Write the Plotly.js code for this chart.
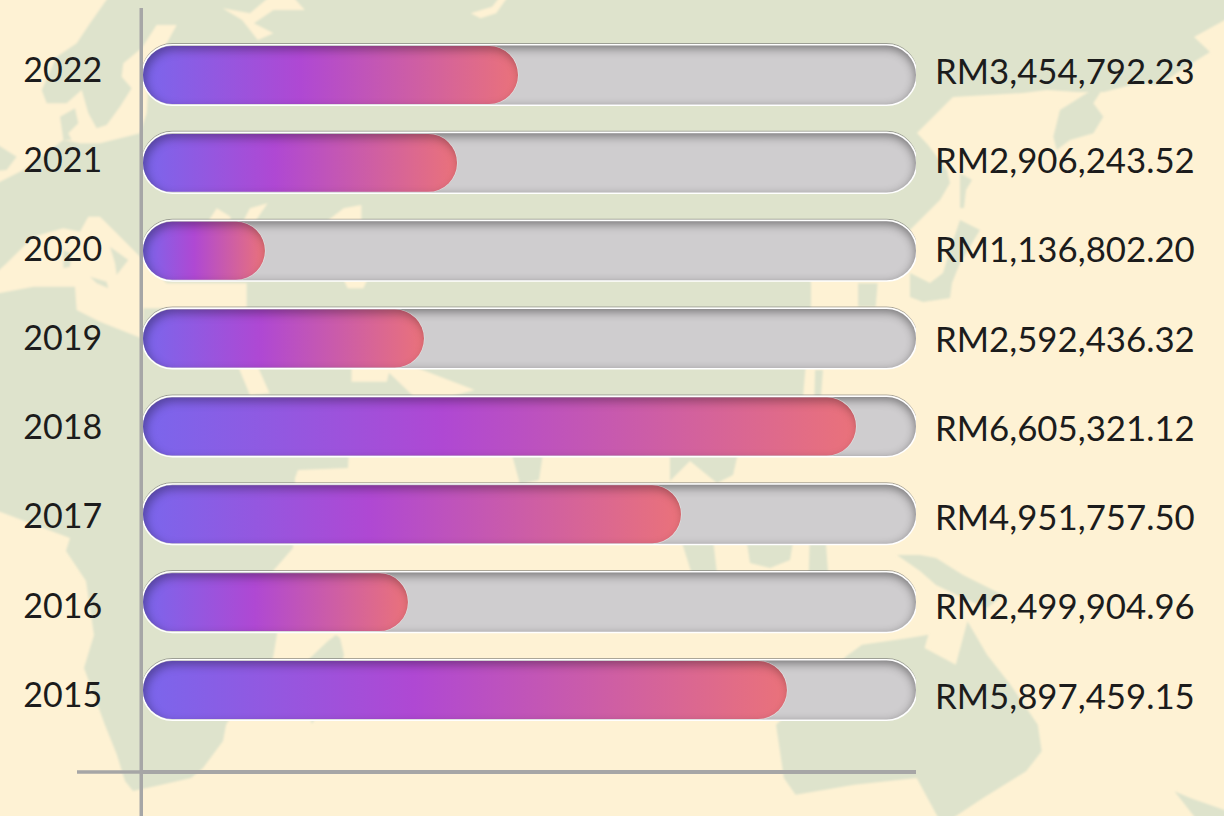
<!DOCTYPE html>
<html>
<head>
<meta charset="utf-8">
<script src="https://cdn.plot.ly/plotly-3.0.1.min.js"></script>
<style>html,body{margin:0;padding:0;background:#FEF2D4;overflow:hidden}#c{width:1224px;height:816px}</style>
</head>
<body>
<div id="c"></div>
<script>
const years = ['2022','2021','2020','2019','2018','2017','2016','2015'];
const valueLabels = ['RM3,454,792.23','RM2,906,243.52','RM1,136,802.20','RM2,592,436.32','RM6,605,321.12','RM4,951,757.50','RM2,499,904.96','RM5,897,459.15'];
const barValues = [3493000,2925000,1136000,2617000,6641000,5011000,2468000,5998000];
const trackValues = [7200000,7200000,7200000,7200000,7200000,7200000,7200000,7200000];

const W=1224,H=816,L=143,R=308,T=8,B=46;
const SEA='#DEE3CC', LAND='#FEF2D4', AXIS='#A6A6A6', INK='#1C1C1C', FONT='Lato, sans-serif', FS=34;
const px=(x)=>(x-L)/(W-L-R), py=(y)=>1-(y-T)/(H-T-B);
function poly(pts,color){
  const d=pts.map((p,i)=>(i?'L':'M')+px(p[0]).toFixed(5)+' '+py(p[1]).toFixed(5)).join(' ')+' Z';
  return {type:'path',xref:'paper',yref:'paper',path:d,fillcolor:color,line:{width:0},layer:'below'};
}
const t=(ox,oy,pts)=>pts.map(p=>[ox+p[0]/2.56,oy+p[1]/3]);
const u=(ox,oy,pts)=>pts.map(p=>[ox+p[0]/3,oy+p[1]/3]);
const seaMain=[[-10,-10],[1234,-10],[1234,15],[1194,37],[1210,52],[1186,67],[1159,85],[1139,83],[1104,92],[1077,92],[1047,90],[1023,93],[953,97],[917,133],[928,145],[947,170],[950,183],[940,200],[920,220],[910,230],[800,240],[811,283],[811,305],[803,397],
  [780,430],[350,430],[348,468],[298,470],[295,478],[293,548],[273,571],[277,634],[273,658],[240,700],[226,725],[223,741],[203,768],[191,778],[156,786],[133,791],[125,781],[117,755],[105,725],[84,668],[94,635],[86,581],[66,551],[70,538],[-10,508]];
const seaParts=[
  u(910,60,[[430,230],[450,150],[530,100],[585,75],[550,130],[580,170],[550,220],[480,240],[440,270]]),
  [[960,220],[980,230],[960,263],[952,283],[950,298],[923,302],[910,297],[910,273],[930,283],[943,273],[950,250]],
  [[960,173],[972,180],[966,190],[964,208],[960,208]],
  t(612,0,[[630,850],[680,850],[675,920],[630,920]]),
  t(612,0,[[520,1110],[540,1110],[535,1190],[518,1190]]),
  [[508,440],[545,440],[539,480],[520,484]],
  [[670,440],[741,440],[733,475],[717,483],[690,461],[670,481]],
  [[678,530],[712,530],[720,600],[700,600]],
  [[745,530],[795,530],[790,560],[770,568],[750,563]],
  [[810,530],[825,530],[830,600],[808,600]],
  [[897,555],[920,555],[936,558],[963,575],[1003,595],[987,608],[963,598],[936,585],[920,571]],
  [[328,641],[336,635],[340,638],[344,655],[336,680],[312,724],[305,700],[309,659]],
  t(612,408,[[600,745],[640,710],[760,690],[810,680],[800,720],[880,770],[910,640],[960,740],[1020,830],[1090,950],[1100,1030],[1060,1090],[950,1170],[860,1240],[840,1240],[780,1110],[620,1130],[470,1160],[440,1110],[420,950]]),
  t(612,408,[[1440,1150],[1480,1170],[1590,1215],[1590,1240],[1500,1240],[1460,1180]])
];
const landParts=[
  u(0,0,[[-30,-30],[340,-30],[270,70],[230,130],[170,170],[125,270],[140,310],[200,310],[245,270],[265,340],[290,385],[320,375],[360,320],[395,265],[365,230],[370,190],[425,145],[470,75],[530,75],[500,130],[450,180],[440,340],[420,400],[300,430],[240,430],[190,420],[70,510],[-30,560]]),
  u(0,0,[[-30,835],[20,790],[100,710],[190,685],[240,695],[265,650],[300,650],[350,700],[400,750],[440,790],[500,850],[740,850],[740,925],[430,925],[425,1015],[300,965],[230,930],[225,860],[100,860],[-30,885]]),
  t(0,0,[[570,25],[620,60],[640,90],[660,120],[700,100],[650,70],[700,30],[780,30],[750,-10],[690,-10],[640,40]]),
  t(0,0,[[1205,40],[1260,20],[1280,-10],[1300,-10],[1270,40],[1230,55]]),
  t(0,0,[[530,670],[555,625],[590,650],[590,670]]),
  t(0,0,[[620,670],[640,625],[685,610],[650,670]]),
  t(0,0,[[830,670],[880,625],[925,615],[925,670]]),
  t(0,0,[[880,840],[940,840],[930,865],[890,865]]),
  t(0,0,[[610,1100],[660,1100],[690,1180],[640,1185]]),
  t(0,0,[[900,1100],[1000,1100],[990,1145],[900,1145]]),
  t(0,0,[[980,1100],[1060,1100],[1215,1170],[1150,1190],[1060,1190]])
];
const seaPatches=[
  u(0,0,[[-30,420],[50,470],[20,510],[-30,515]]),
  u(0,0,[[180,350],[225,325],[235,370],[205,400],[215,420],[190,420]]),
  u(0,0,[[190,750],[215,760],[210,800],[190,805]]),
  u(0,0,[[270,830],[320,845],[325,865],[290,850]]),
  u(0,0,[[330,740],[385,780],[350,825],[345,790]])
];
const line=(x0,y0,x1,y1)=>({type:'line',xref:'paper',yref:'paper',x0:px(x0),y0:py(y0),x1:px(x1),y1:py(y1),line:{color:AXIS,width:3.5},layer:'above'});
const shapes=[poly(seaMain,SEA)].concat(seaParts.map(p=>poly(p,SEA)),landParts.map(p=>poly(p,LAND)),seaPatches.map(p=>poly(p,SEA)),[line(141.25,8,141.25,816),line(77,772,916,772)]);

const data=[
  {type:'bar',orientation:'h',y:years,x:trackValues,width:0.672,marker:{color:'#CFCDCF',line:{color:'#FFFFFF',width:2}},hoverinfo:'skip',cliponaxis:false},
  {type:'bar',orientation:'h',y:years,x:barValues,width:0.66,marker:{color:'#AE48D4',line:{color:'#FFFFFF',width:1}},hoverinfo:'skip',cliponaxis:false},
  {type:'scatter',mode:'markers',yaxis:'y2',y:years,x:barValues,marker:{opacity:0,size:1},hoverinfo:'skip'}
];
const layout={
  width:W,height:H,margin:{l:L,r:R,t:T,b:B,pad:0},showlegend:false,barmode:'overlay',
  paper_bgcolor:LAND,plot_bgcolor:'rgba(0,0,0,0)',
  font:{family:FONT,size:FS,color:INK},
  xaxis:{range:[0,7200000],showgrid:false,zeroline:false,showticklabels:false,ticks:'',showline:true,linecolor:AXIS,linewidth:3.5,fixedrange:true},
  yaxis:{type:'category',categoryorder:'array',categoryarray:years,range:[7.911,-0.763],showgrid:false,zeroline:false,showline:true,linecolor:AXIS,linewidth:3.5,showticklabels:false,ticks:'',fixedrange:true},
  yaxis2:{type:'category',categoryorder:'array',categoryarray:years,overlaying:'y',side:'left',anchor:'x',range:[7.84,-0.70],showgrid:false,zeroline:false,showline:false,ticks:'outside',ticklen:33,tickcolor:'rgba(0,0,0,0)',tickfont:{family:FONT,size:FS,color:INK},fixedrange:true},
  shapes:shapes,
  annotations:years.map((y,i)=>({x:1,y:i,xref:'paper',yref:'y2',text:valueLabels[i],showarrow:false,xanchor:'left',xshift:17,font:{family:FONT,size:34.8,color:INK}}))
};
function decorate(gd){
  const svg=gd.querySelector('.main-svg');
  const NS='http://www.w3.org/2000/svg';
  const defs=document.createElementNS(NS,'defs');
  const inner=(id,dx,dy,blur,op)=>`<filter id="${id}" x="-5%" y="-25%" width="110%" height="150%" color-interpolation-filters="sRGB">
    <feGaussianBlur in="SourceAlpha" stdDeviation="${blur}"/><feOffset dx="${dx}" dy="${dy}" result="o"/>
    <feComposite in="SourceAlpha" in2="o" operator="out" result="i"/>
    <feFlood flood-color="#000" flood-opacity="${op}"/><feComposite in2="i" operator="in" result="s"/>
    <feMerge><feMergeNode in="SourceGraphic"/><feMergeNode in="s"/></feMerge></filter>`;
  defs.innerHTML=`<linearGradient id="barGrad" x1="0" y1="0" x2="1" y2="0">
    <stop offset="0" stop-color="#7A66EC"/><stop offset="0.42" stop-color="#AF48D3"/><stop offset="1" stop-color="#EA727A"/></linearGradient>`
    +inner('fillShadow',3,4,5,0.32)
    +inner('trackShadow',0,3,5,0.42)
    +`<filter id="rim" x="-5%" y="-25%" width="110%" height="150%"><feOffset in="SourceAlpha" dy="-0.8" result="u"/><feFlood flood-color="#666" flood-opacity="0.55"/><feComposite in2="u" operator="in" result="e"/><feMerge><feMergeNode in="e"/><feMergeNode in="SourceGraphic"/></feMerge></filter>`
    +`<filter id="soft" filterUnits="userSpaceOnUse" x="0" y="0" width="${W}" height="${H}"><feGaussianBlur stdDeviation="1.2"/></filter>`;
  svg.insertBefore(defs,svg.firstChild);
  const below=gd.querySelector('.layer-below .shapelayer');
  if(below) below.setAttribute('filter','url(#soft)');
  gd.querySelectorAll('.barlayer .trace').forEach((tr,ti)=>{
    tr.querySelectorAll('.point path').forEach(p=>{
      const b=p.getBBox(), r=b.height/2;
      p.setAttribute('d',`M${b.x+r},${b.y}H${b.x+b.width-r}A${r},${r} 0 0 1 ${b.x+b.width-r},${b.y+b.height}H${b.x+r}A${r},${r} 0 0 1 ${b.x+r},${b.y}Z`);
      const back=p.cloneNode(true);
      back.style.fill='none';
      back.style.stroke='#FFFFFF';
      back.style.strokeWidth=ti===1?'1.2px':'3px';
      back.style.strokeOpacity=ti===1?'0.4':'1';
      if(ti===0) back.setAttribute('filter','url(#rim)');
      p.parentNode.insertBefore(back,p);
      p.style.stroke='none';
      if(ti===1) p.style.fill='url(#barGrad)';
      p.setAttribute('filter',ti===1?'url(#fillShadow)':'url(#trackShadow)');
    });
  });
}
const gd=document.getElementById('c');
Plotly.newPlot(gd,data,layout,{displayModeBar:false,staticPlot:true}).then(()=>decorate(gd));
</script>
</body>
</html>
